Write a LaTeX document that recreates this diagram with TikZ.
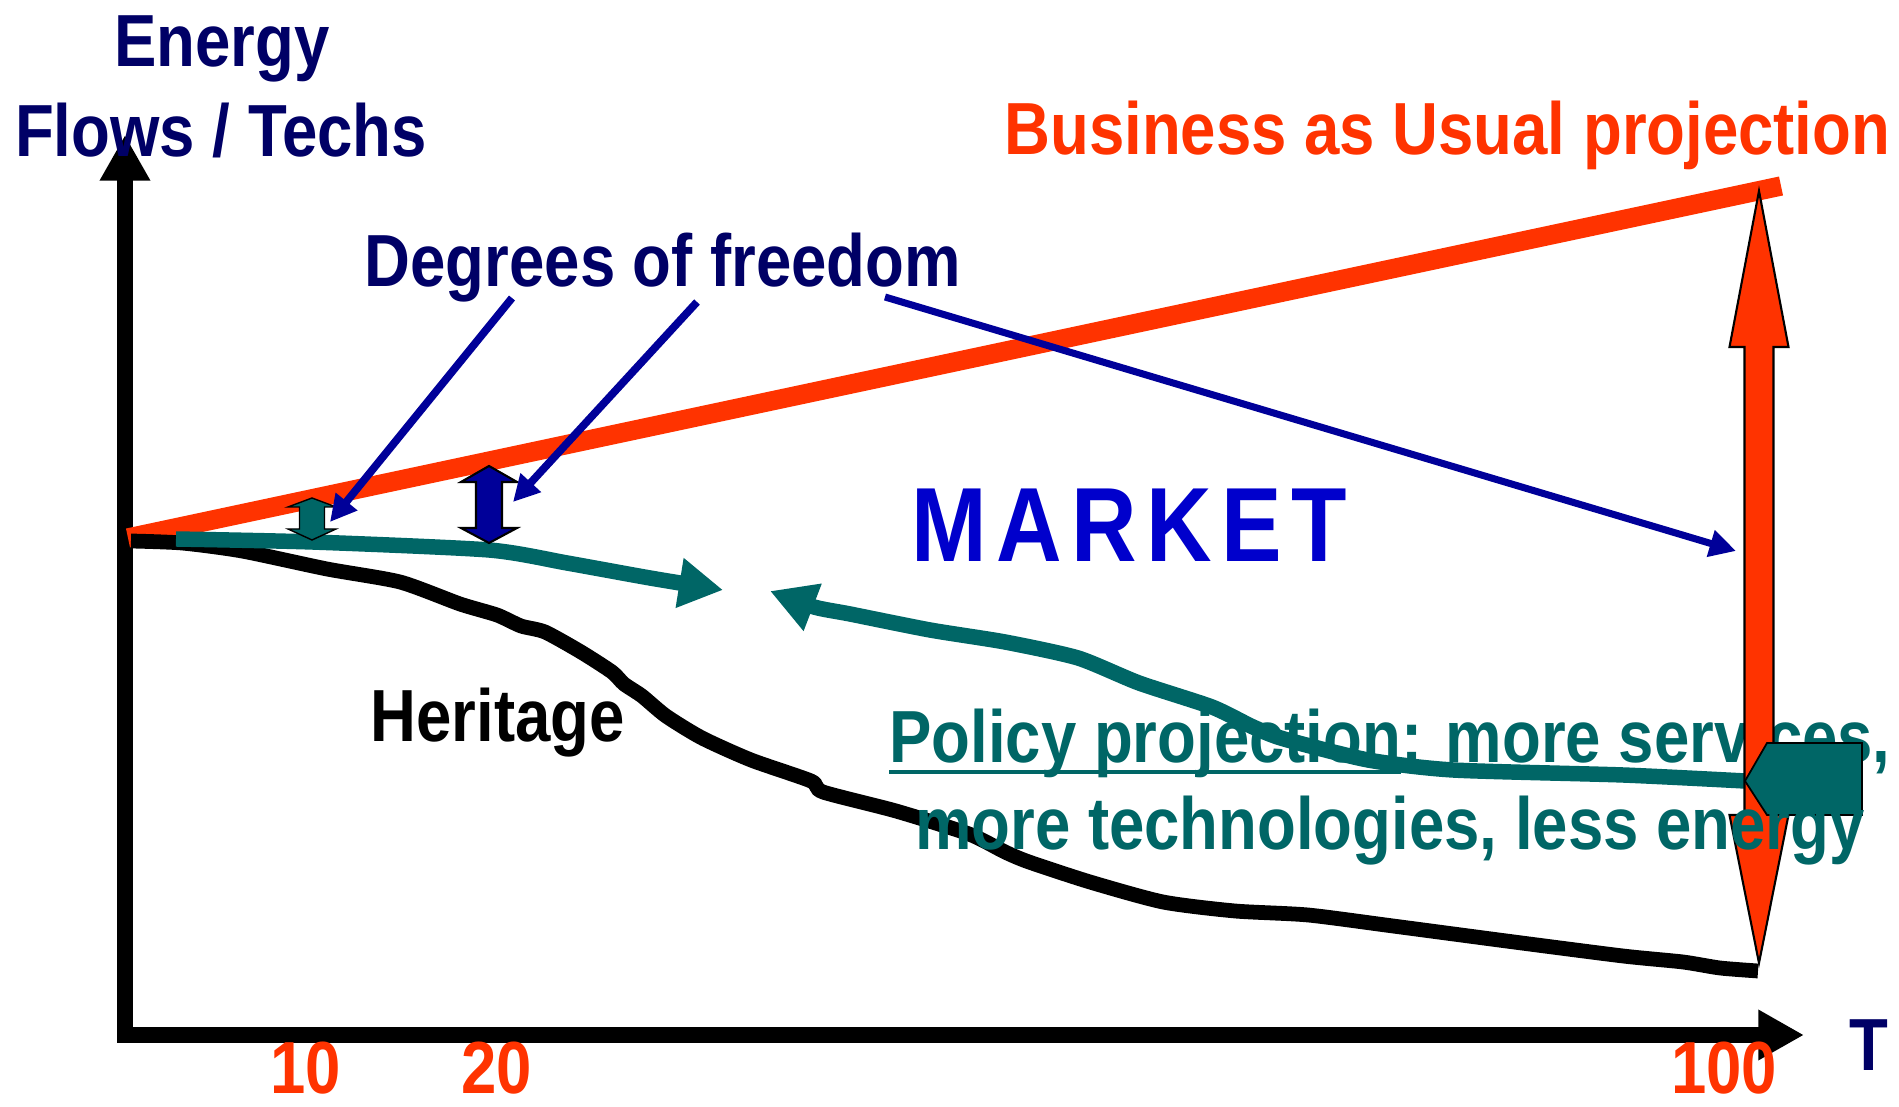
\documentclass[tikz,border=0pt]{standalone}
\usepackage{fontspec}
\setmainfont{Liberation Sans}[FakeStretch=0.86]
\newfontfamily\spacedfont{Liberation Sans}[FakeStretch=0.86,LetterSpace=9]
\usetikzlibrary{arrows.meta}

\definecolor{bau}{HTML}{FF3300}
\definecolor{navytext}{HTML}{000066}
\definecolor{dofblue}{HTML}{000099}
\definecolor{marketblue}{HTML}{0000CC}
\definecolor{policy}{HTML}{006666}

% block double arrow: x, top tip, top head base, bottom head base, bottom tip, half head, half shaft, options
\newcommand{\blockupdown}[8]{%
  \filldraw[#8] (#1,#2) -- (#1+#6,#3) -- (#1+#7,#3) -- (#1+#7,#4) -- (#1+#6,#4)
    -- (#1,#5) -- (#1-#6,#4) -- (#1-#7,#4) -- (#1-#7,#3) -- (#1-#6,#3) -- cycle;%
}
% underline at a fixed depth, below the baseline
\newcommand{\policyul}[1]{\setbox0\hbox{#1}\rlap{\rule[-3.1pt]{\wd0}{1.1pt}}\box0}

\begin{document}
\begin{tikzpicture}[x=0.01cm,y=-0.01cm,
    lbl/.style={inner sep=0pt, font=\fontsize{21}{25}\selectfont\bfseries},
    axis/.style={line width=4.5pt, -{Triangle[length=13pt,width=13.5pt]}},
    callout/.style={dofblue, line width=2.2pt, -{Triangle[length=7.5pt,width=7.5pt]}},
    policyline/.style={policy, line width=4.4pt}]
    \useasboundingbox (0,0) rectangle (1899,1107);

    % axes
    \coordinate (origin) at (125,1035);
    \coordinate (ytop) at (125,135);
    \coordinate (xend) at (1804,1035);
    \draw[axis] (125,1043) -- (ytop);
    \draw[axis] (origin) -- (xend);

    % business as usual
    \coordinate (bau0) at (128,538);
    \coordinate (bau1) at (1781,186);
    \draw[bau, line width=5.5pt] (bau0) -- (bau1);

    % heritage
    \draw[black, line width=4.2pt] plot[smooth, tension=0.4] coordinates {
      (131,541) (182,543) (242,551) (327,569) (400,582) (460,604) (497,615)
      (521,626) (545,632) (581,652) (612,672) (624,684) (642,696) (666,716)
      (702,738) (751,760) (811,781) (823,792) (896,811) (969,834) (1005,852)
      (1029,862) (1090,882) (1163,902) (1235,911) (1308,915) (1393,926)
      (1514,942) (1623,956) (1683,962) (1720,968) (1758,971)};

    % labels
    \node[lbl, navytext, anchor=base] (energy) at (222,67) {Energy};
    \node[lbl, navytext, anchor=base] (flows) at (221,157) {Flows / Techs};
    \node[lbl, bau, anchor=base east] (baulabel) at (1891,155) {Business as Usual projection};
    \node[lbl, navytext, anchor=base west] (dof) at (364,287) {Degrees of freedom};
    \node[inner sep=0pt, anchor=base west, marketblue,
      font=\fontsize{30}{36}\spacedfont\bfseries] (market) at (911,562) {MARKET};
    \node[lbl, black, anchor=base west] (heritage) at (370,742) {Heritage};
    \node[lbl, navytext, anchor=base] (tlabel) at (1869,1071) {T};
    \foreach \t/\x/\y in {10/306/1094, 20/497/1094, 100/1724/1094} {
      \node[lbl, bau, anchor=base] (tick\t) at (\x,\y) {\t};
    }

    % policy towards the market
    \draw[policyline, -{Triangle[length=12.5pt,width=13.5pt]}] plot[smooth, tension=0.4]
      coordinates {(176,539) (312,542) (489,550) (567,563) (650,578) (723,590)};
    \blockupdown{312}{498}{507}{529}{540}{24}{12.5}{fill=policy}
    \blockupdown{489}{466}{482}{528}{543}{28}{13}{fill=dofblue, draw=black, line width=0.6pt}

    \node[lbl, policy, anchor=base] (policy1) at (1390,763)
      {\policyul{Policy projection}: more services,};

    % policy back from the target
    \draw[policyline, -{Triangle[length=13pt,width=13.5pt]}] plot[smooth, tension=0.4]
      coordinates {(1745,781) (1623,775) (1453,770) (1368,760) (1284,739) (1253,727)
      (1212,707) (1139,683) (1078,658) (1005,642) (930,630) (850,614) (814,607) (770,591)};

    \blockupdown{1759}{191}{347}{815}{963}{29.5}{14.5}{fill=bau, draw=black, line width=0.6pt}
    \filldraw[fill=policy, draw=black, line width=0.5pt]
      (1745,781) -- (1767,743) -- (1862,743) -- (1862,815) -- (1767,815) -- cycle;

    \node[lbl, policy, anchor=base] (policy2) at (1390,850)
      {more technologies, less energy};

    % degrees of freedom pointers
    \coordinate (dofa) at (512,298);
    \coordinate (dofb) at (697,302);
    \coordinate (dofc) at (885,297);
    \coordinate (gapa) at (330,522);
    \coordinate (gapb) at (513,502);
    \coordinate (gapc) at (1736,551);
    \draw[callout] (dofa) -- (gapa);
    \draw[callout] (dofb) -- (gapb);
    \draw[callout, line width=2pt] (dofc) -- (gapc);
\end{tikzpicture}
\end{document}
